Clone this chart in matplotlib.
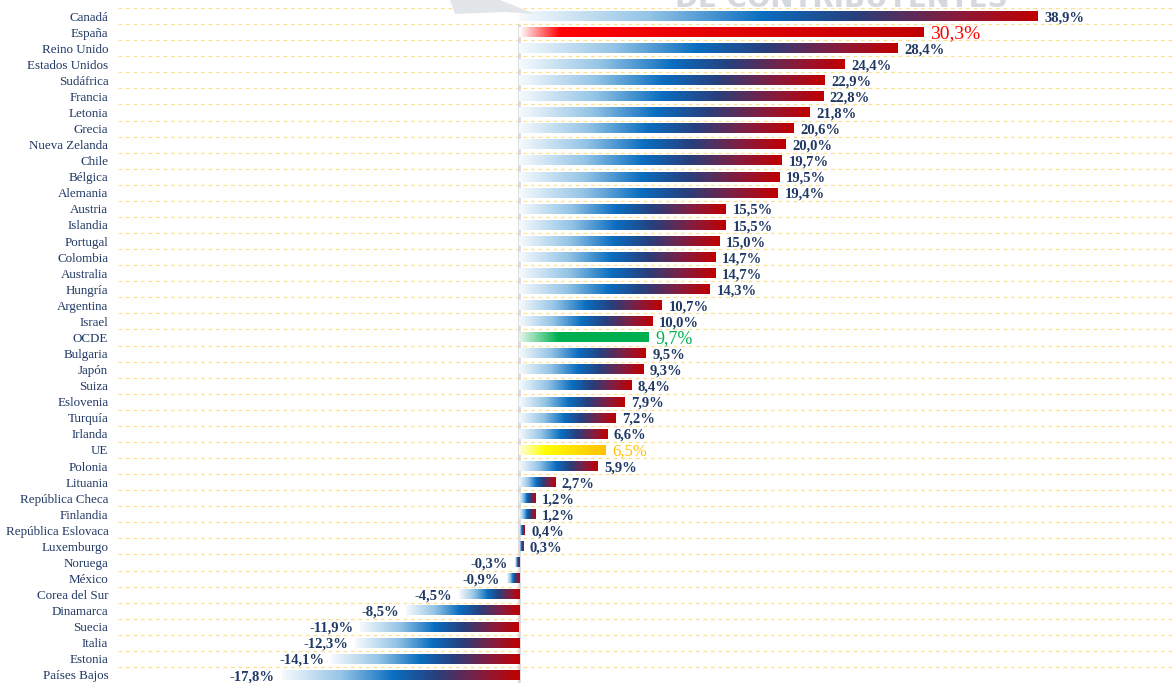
import matplotlib.pyplot as plt
from matplotlib.colors import LinearSegmentedColormap
from matplotlib.patches import Polygon
import numpy as np

# Data (top to bottom)
countries = ["Canadá", "España", "Reino Unido", "Estados Unidos", "Sudáfrica", "Francia",
             "Letonia", "Grecia", "Nueva Zelanda", "Chile", "Bélgica", "Alemania", "Austria",
             "Islandia", "Portugal", "Colombia", "Australia", "Hungría", "Argentina", "Israel",
             "OCDE", "Bulgaria", "Japón", "Suiza", "Eslovenia", "Turquía", "Irlanda", "UE",
             "Polonia", "Lituania", "República Checa", "Finlandia", "República Eslovaca",
             "Luxemburgo", "Noruega", "México", "Corea del Sur", "Dinamarca", "Suecia",
             "Italia", "Estonia", "Países Bajos"]
values = [38.9, 30.3, 28.4, 24.4, 22.9, 22.8, 21.8, 20.6, 20.0, 19.7, 19.5, 19.4, 15.5,
          15.5, 15.0, 14.7, 14.7, 14.3, 10.7, 10.0, 9.7, 9.5, 9.3, 8.4, 7.9, 7.2, 6.6, 6.5,
          5.9, 2.7, 1.2, 1.2, 0.4, 0.3, -0.3, -0.9, -4.5, -8.5, -11.9, -12.3, -14.1, -17.8]

navy = "#203864"
highlight = {"España": ("reds", "#ff0000", 14),
             "OCDE": ("greens", "#00b050", 13),
             "UE": ("yellows", "#ffc000", 12)}

cmaps = {
    "default": LinearSegmentedColormap.from_list("default", [
        (0.0, "#f6fafd"), (0.25, "#94c4e6"), (0.47, "#0a6dbf"),
        (0.65, "#283f7c"), (0.85, "#8a1a3a"), (1.0, "#c00000")]),
    "reds": LinearSegmentedColormap.from_list("reds", [
        (0.0, "#ffffff"), (0.1, "#ff0000"), (1.0, "#c00000")]),
    "greens": LinearSegmentedColormap.from_list("greens", [
        (0.0, "#e6f6ec"), (0.3, "#00b050"), (1.0, "#00b050")]),
    "yellows": LinearSegmentedColormap.from_list("yellows", [
        (0.0, "#ffffe0"), (0.3, "#ffff00"), (1.0, "#ffc000")]),
}

fig = plt.figure(figsize=(11.74, 6.83), dpi=100)

# faded watermark at the top (logo swoosh + text, cut off by the top edge)
fig.patches.append(Polygon([(450 / 1174, 1.0), (500 / 1174, 1.0), (535 / 1174, 1 - 14 / 683),
                            (505 / 1174, 1 - 12 / 683), (455 / 1174, 1 - 14 / 683)],
                           closed=True, transform=fig.transFigure,
                           facecolor="#e3e6e9", edgecolor="none", zorder=0))
fig.text(0.575, 1 - 13 / 683, "DE CONTRIBUYENTES", ha="left", va="bottom",
         fontsize=20, fontweight="bold", color="#d5d9dd", zorder=0)

ax = fig.add_axes([118 / 1174, 0.0, 1 - 118 / 1174, 1 - 8 / 683])
ax.patch.set_alpha(0)

xmin, xmax = -30.06, 49.1
grad = np.linspace(0, 1, 256).reshape(1, -1)
bar_h = 0.6

# dashed row separators
for k in range(len(countries) + 1):
    ax.hlines(k - 0.5, xmin, xmax, color="#ffe08a", lw=0.9,
              linestyles=(0, (3, 3)), zorder=1)

ax.vlines(0, 0.5, len(countries) - 0.5, color="#d9d9d9", lw=2, zorder=2)

for i, (c, v) in enumerate(zip(countries, values)):
    cm_name = highlight[c][0] if c in highlight else "default"
    x0, x1 = min(0, v), max(0, v)
    ax.imshow(grad, cmap=cmaps[cm_name], aspect="auto", interpolation="bilinear",
              extent=(x0, x1, i + bar_h / 2, i - bar_h / 2), zorder=3)
    label = f"{v:.1f}%".replace(".", ",")
    if c in highlight:
        color, size, weight = highlight[c][1], highlight[c][2], "normal"
    else:
        color, size, weight = navy, 10.5, "bold"
    if v >= 0:
        ax.text(v + 0.5, i + 0.1, label, ha="left", va="center", color=color,
                fontsize=size, fontweight=weight, family="Liberation Serif", zorder=4)
    else:
        ax.text(v - 0.5, i + 0.1, label, ha="right", va="center", color=color,
                fontsize=size, fontweight=weight, family="Liberation Serif", zorder=4)

ax.set_xlim(xmin, xmax)
ax.set_ylim(len(countries) - 0.5, -0.5)
ax.set_yticks(range(len(countries)))
ax.set_yticklabels(countries, family="Liberation Serif", fontsize=9.4, color=navy)
ax.tick_params(axis="y", length=0, pad=7)
ax.set_xticks([])
for s in ax.spines.values():
    s.set_visible(False)

fig.savefig("out.png", dpi=100)
